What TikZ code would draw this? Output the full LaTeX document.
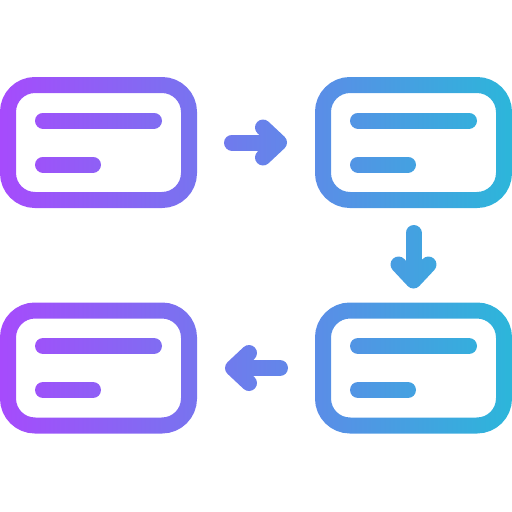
\documentclass[tikz,border=0pt]{standalone}
\usetikzlibrary{arrows.meta}

\definecolor{flowleft}{RGB}{166,75,252}
\definecolor{flowmid}{RGB}{122,110,244}
\definecolor{flowright}{RGB}{44,182,218}

\begin{document}
\begin{tikzpicture}[x=1pt,y=-1pt,
	card/.style={draw,line width=16pt,rounded corners=27pt,minimum width=181pt,minimum height=115pt,inner sep=0pt},
	bar/.style={line width=16pt,line cap=round},
	flow/.style={line width=16pt,line cap=round,line join=round,-{Straight Barb[round,length=16pt,width=30pt]}}]
		\useasboundingbox (0,0) rectangle (512,512);
		\fill[white] (0,0) rectangle (512,512);
		% the four cards
		\node[card] (tl) at (98.5,142.5) {};
		\node[card] (tr) at (413.5,142.5) {};
		\node[card] (br) at (413.5,368) {};
		\node[card] (bl) at (98.5,368) {};
		\foreach \cc in {tl,tr,br,bl}
		{
			\draw[bar] ([xshift=43pt,yshift=22pt]\cc.west)--++(111,0);
			\draw[bar] ([xshift=43pt,yshift=-22pt]\cc.west)--++(50,0);
		}
		% arrows
		\draw[flow] ([xshift=35pt]tl.east)--([xshift=-28pt]tr.west);
		\draw[flow] ([yshift=-25pt]tr.south)--([yshift=14pt]br.north);
		\draw[flow] ([xshift=-35pt]br.west)--([xshift=28pt]bl.east);
		% colour
		\begin{scope}[blend mode=screen]
			\shade[left color=flowleft,middle color=flowmid,right color=flowright] (0,0) rectangle (512,512);
		\end{scope}
	\end{tikzpicture}
\end{document}
